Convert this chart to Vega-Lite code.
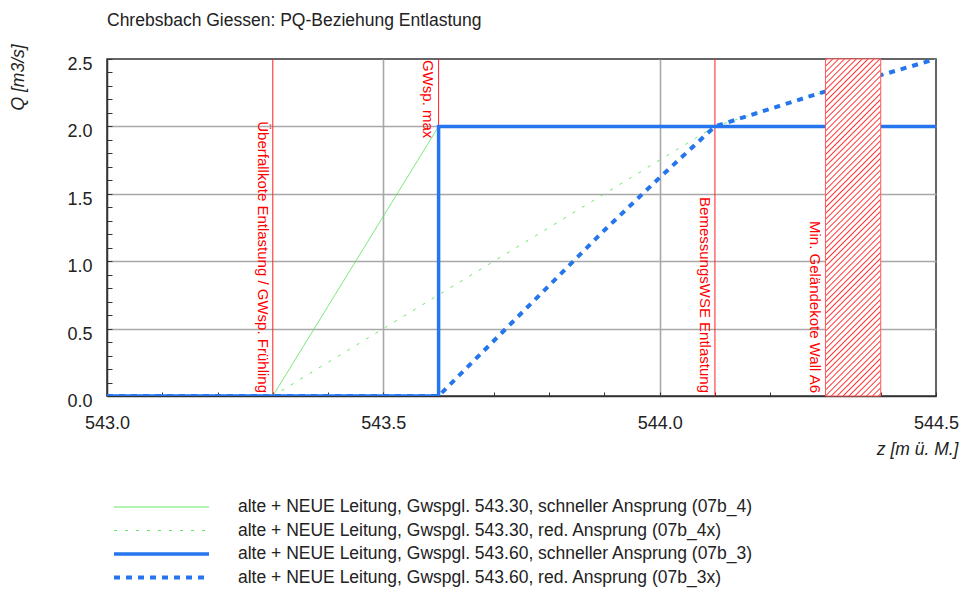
{
 "$schema": "https://vega.github.io/schema/vega-lite/v6.json",
 "width": 829,
 "height": 337,
 "autosize": {"type": "none"},
 "padding": {"left": 107, "top": 59, "right": 25, "bottom": 208},
 "background": "white",
 "title": {"text": "Chrebsbach Giessen: PQ-Beziehung Entlastung", "anchor": "start", "frame": "group", "fontSize": 17.5, "fontWeight": "normal", "color": "#222222", "baseline": "alphabetic", "offset": 0, "font": "Liberation Sans"},
 "datasets": {
  "lines": [
   {"s": "07b_4", "i": 0, "z": 543.0, "q": 0},
   {"s": "07b_4", "i": 1, "z": 543.3, "q": 0},
   {"s": "07b_4", "i": 2, "z": 543.6, "q": 2.0},
   {"s": "07b_4", "i": 3, "z": 544.5, "q": 2.0},
   {"s": "07b_4x", "i": 0, "z": 543.0, "q": 0},
   {"s": "07b_4x", "i": 1, "z": 543.3, "q": 0},
   {"s": "07b_4x", "i": 2, "z": 544.1, "q": 2.0},
   {"s": "07b_4x", "i": 3, "z": 544.2, "q": 2.13},
   {"s": "07b_4x", "i": 4, "z": 544.3, "q": 2.26},
   {"s": "07b_4x", "i": 5, "z": 544.4, "q": 2.38},
   {"s": "07b_4x", "i": 6, "z": 544.5, "q": 2.5},
   {"s": "07b_3", "i": 0, "z": 543.0, "q": 0},
   {"s": "07b_3", "i": 1, "z": 543.6, "q": 0},
   {"s": "07b_3", "i": 2, "z": 543.6, "q": 2.0},
   {"s": "07b_3", "i": 3, "z": 544.5, "q": 2.0},
   {"s": "07b_3x", "i": 0, "z": 543.0, "q": 0},
   {"s": "07b_3x", "i": 1, "z": 543.6, "q": 0},
   {"s": "07b_3x", "i": 2, "z": 543.7, "q": 0.41},
   {"s": "07b_3x", "i": 3, "z": 543.8, "q": 0.82},
   {"s": "07b_3x", "i": 4, "z": 543.9, "q": 1.23},
   {"s": "07b_3x", "i": 5, "z": 544.0, "q": 1.62},
   {"s": "07b_3x", "i": 6, "z": 544.1, "q": 2.0},
   {"s": "07b_3x", "i": 7, "z": 544.2, "q": 2.13},
   {"s": "07b_3x", "i": 8, "z": 544.3, "q": 2.26},
   {"s": "07b_3x", "i": 9, "z": 544.4, "q": 2.38},
   {"s": "07b_3x", "i": 10, "z": 544.5, "q": 2.5}
  ],
  "marks": [
   {"z": 543.3, "q": 0, "t": "Überfallkote Entlastung / GWsp. Frühling", "pos": "unten", "linie": true},
   {"z": 543.6, "q": 2.5, "t": "GWsp. max", "pos": "oben", "linie": true},
   {"z": 544.1, "q": 0, "t": "BemessungsWSE Entlastung", "pos": "unten", "linie": true},
   {"z": 544.3, "q": 0, "t": "Min. Geländekote Wall A6", "pos": "unten", "linie": false}
  ],
  "band": [
   {"z1": 544.3, "z2": 544.4, "q1": 0, "q2": 2.5}
  ]
 },
 "layer": [
  {
   "data": {"name": "marks"},
   "transform": [{"filter": "datum.linie"}],
   "mark": {"type": "rule", "color": "#ff2020", "strokeWidth": 1},
   "encoding": {
    "x": {"field": "z", "type": "quantitative"}
   }
  },
  {
   "data": {"name": "lines"},
   "mark": {"type": "line", "clip": true},
   "encoding": {
    "x": {
     "field": "z", "type": "quantitative",
     "scale": {"domain": [543, 544.5], "nice": false, "zero": false},
     "axis": {
      "values": [543, 543.1, 543.2, 543.3, 543.4, 543.5, 543.6, 543.7, 543.8, 543.9, 544, 544.1, 544.2, 544.3, 544.4, 544.5],
      "tickCount": 40,
      "labelExpr": "abs(datum.value*2 - round(datum.value*2)) < 0.001 ? format(datum.value, '.1f') : ''",
      "title": "z [m ü. M.]",
      "tickSize": -4,
      "labelPadding": 22,
      "labelFlush": false,
      "labelOverlap": false,
      "titleAlign": "right",
      "titleBaseline": "middle",
      "titleX": 851,
      "titleY": 53,
      "gridOpacity": {"condition": {"test": "datum.value > 543.01 && datum.value < 544.49 && abs(datum.value*2 - round(datum.value*2)) < 0.001", "value": 1}, "value": 0}
     }
    },
    "y": {
     "field": "q", "type": "quantitative",
     "scale": {"domain": [0, 2.5], "nice": false},
     "axis": {
      "values": [0, 0.1, 0.2, 0.3, 0.4, 0.5, 0.6, 0.7, 0.8, 0.9, 1, 1.1, 1.2, 1.3, 1.4, 1.5, 1.6, 1.7, 1.8, 1.9, 2, 2.1, 2.2, 2.3, 2.4, 2.5],
      "tickCount": 40,
      "labelExpr": "abs(datum.value*2 - round(datum.value*2)) < 0.001 ? format(datum.value, '.1f') : ''",
      "title": "Q [m3/s]",
      "tickSize": -5,
      "labelPadding": 20,
      "labelOffset": 5.5,
      "labelOverlap": false,
      "titleAngle": 270,
      "titleAlign": "left",
      "titleBaseline": "middle",
      "titleX": -89,
      "titleY": 51,
      "gridOpacity": {"condition": {"test": "datum.value > 0.01 && datum.value < 2.49 && abs(datum.value*2 - round(datum.value*2)) < 0.001", "value": 1}, "value": 0}
     }
    },
    "color": {
     "field": "s", "type": "nominal",
     "scale": {"domain": ["07b_4", "07b_4x", "07b_3", "07b_3x"], "range": ["#66e866", "#66e866", "#2576ee", "#2576ee"]},
     "legend": {
      "title": null,
      "labelExpr": "datum.label == '07b_4' ? 'alte + NEUE Leitung, Gwspgl. 543.30, schneller Ansprung (07b_4)' : datum.label == '07b_4x' ? 'alte + NEUE Leitung, Gwspgl. 543.30, red. Ansprung (07b_4x)' : datum.label == '07b_3' ? 'alte + NEUE Leitung, Gwspgl. 543.60, schneller Ansprung (07b_3)' : 'alte + NEUE Leitung, Gwspgl. 543.60, red. Ansprung (07b_3x)'"
     }
    },
    "strokeDash": {
     "field": "s", "type": "nominal",
     "scale": {"domain": ["07b_4", "07b_4x", "07b_3", "07b_3x"], "range": [[1, 0], [3, 8], [1, 0], [6, 6]]},
     "legend": {"title": null}
    },
    "strokeWidth": {
     "field": "s", "type": "nominal",
     "scale": {"type": "ordinal", "domain": ["07b_4", "07b_4x", "07b_3", "07b_3x"], "range": [1, 1, 3.5, 4]},
     "legend": {"title": null}
    },
    "order": {"field": "i", "type": "quantitative"}
   }
  },
  {
   "data": {"name": "band"},
   "mark": {
    "type": "rect", "stroke": "#ff5a5a", "strokeWidth": 1,
    "fill": {"gradient": "linear", "x1": 0, "y1": 0, "x2": 0.186, "y2": 1.134, "stops": [
{"offset":0,"color":"#fff"},{"offset":0.0035,"color":"#f33"},{"offset":0.007,"color":"#fff"},
{"offset":0.015,"color":"#fff"},{"offset":0.0185,"color":"#f33"},{"offset":0.022,"color":"#fff"},
{"offset":0.03,"color":"#fff"},{"offset":0.0335,"color":"#f33"},{"offset":0.037,"color":"#fff"},
{"offset":0.045,"color":"#fff"},{"offset":0.0485,"color":"#f33"},{"offset":0.052,"color":"#fff"},
{"offset":0.06,"color":"#fff"},{"offset":0.0635,"color":"#f33"},{"offset":0.067,"color":"#fff"},
{"offset":0.075,"color":"#fff"},{"offset":0.0785,"color":"#f33"},{"offset":0.082,"color":"#fff"},
{"offset":0.09,"color":"#fff"},{"offset":0.0935,"color":"#f33"},{"offset":0.097,"color":"#fff"},
{"offset":0.105,"color":"#fff"},{"offset":0.1085,"color":"#f33"},{"offset":0.112,"color":"#fff"},
{"offset":0.12,"color":"#fff"},{"offset":0.1235,"color":"#f33"},{"offset":0.127,"color":"#fff"},
{"offset":0.135,"color":"#fff"},{"offset":0.1385,"color":"#f33"},{"offset":0.142,"color":"#fff"},
{"offset":0.15,"color":"#fff"},{"offset":0.1535,"color":"#f33"},{"offset":0.157,"color":"#fff"},
{"offset":0.165,"color":"#fff"},{"offset":0.1685,"color":"#f33"},{"offset":0.172,"color":"#fff"},
{"offset":0.18,"color":"#fff"},{"offset":0.1835,"color":"#f33"},{"offset":0.187,"color":"#fff"},
{"offset":0.195,"color":"#fff"},{"offset":0.1985,"color":"#f33"},{"offset":0.202,"color":"#fff"},
{"offset":0.21,"color":"#fff"},{"offset":0.2135,"color":"#f33"},{"offset":0.217,"color":"#fff"},
{"offset":0.225,"color":"#fff"},{"offset":0.2285,"color":"#f33"},{"offset":0.232,"color":"#fff"},
{"offset":0.24,"color":"#fff"},{"offset":0.2435,"color":"#f33"},{"offset":0.247,"color":"#fff"},
{"offset":0.255,"color":"#fff"},{"offset":0.2585,"color":"#f33"},{"offset":0.262,"color":"#fff"},
{"offset":0.27,"color":"#fff"},{"offset":0.2735,"color":"#f33"},{"offset":0.277,"color":"#fff"},
{"offset":0.285,"color":"#fff"},{"offset":0.2885,"color":"#f33"},{"offset":0.292,"color":"#fff"},
{"offset":0.3,"color":"#fff"},{"offset":0.3035,"color":"#f33"},{"offset":0.307,"color":"#fff"},
{"offset":0.315,"color":"#fff"},{"offset":0.3185,"color":"#f33"},{"offset":0.322,"color":"#fff"},
{"offset":0.33,"color":"#fff"},{"offset":0.3335,"color":"#f33"},{"offset":0.337,"color":"#fff"},
{"offset":0.345,"color":"#fff"},{"offset":0.3485,"color":"#f33"},{"offset":0.352,"color":"#fff"},
{"offset":0.36,"color":"#fff"},{"offset":0.3635,"color":"#f33"},{"offset":0.367,"color":"#fff"},
{"offset":0.375,"color":"#fff"},{"offset":0.3785,"color":"#f33"},{"offset":0.382,"color":"#fff"},
{"offset":0.39,"color":"#fff"},{"offset":0.3935,"color":"#f33"},{"offset":0.397,"color":"#fff"},
{"offset":0.405,"color":"#fff"},{"offset":0.4085,"color":"#f33"},{"offset":0.412,"color":"#fff"},
{"offset":0.42,"color":"#fff"},{"offset":0.4235,"color":"#f33"},{"offset":0.427,"color":"#fff"},
{"offset":0.435,"color":"#fff"},{"offset":0.4385,"color":"#f33"},{"offset":0.442,"color":"#fff"},
{"offset":0.45,"color":"#fff"},{"offset":0.4535,"color":"#f33"},{"offset":0.457,"color":"#fff"},
{"offset":0.465,"color":"#fff"},{"offset":0.4685,"color":"#f33"},{"offset":0.472,"color":"#fff"},
{"offset":0.48,"color":"#fff"},{"offset":0.4835,"color":"#f33"},{"offset":0.487,"color":"#fff"},
{"offset":0.495,"color":"#fff"},{"offset":0.4985,"color":"#f33"},{"offset":0.502,"color":"#fff"},
{"offset":0.51,"color":"#fff"},{"offset":0.5135,"color":"#f33"},{"offset":0.517,"color":"#fff"},
{"offset":0.525,"color":"#fff"},{"offset":0.5285,"color":"#f33"},{"offset":0.532,"color":"#fff"},
{"offset":0.54,"color":"#fff"},{"offset":0.5435,"color":"#f33"},{"offset":0.547,"color":"#fff"},
{"offset":0.555,"color":"#fff"},{"offset":0.5585,"color":"#f33"},{"offset":0.562,"color":"#fff"},
{"offset":0.57,"color":"#fff"},{"offset":0.5735,"color":"#f33"},{"offset":0.577,"color":"#fff"},
{"offset":0.585,"color":"#fff"},{"offset":0.5885,"color":"#f33"},{"offset":0.592,"color":"#fff"},
{"offset":0.6,"color":"#fff"},{"offset":0.6035,"color":"#f33"},{"offset":0.607,"color":"#fff"},
{"offset":0.615,"color":"#fff"},{"offset":0.6185,"color":"#f33"},{"offset":0.622,"color":"#fff"},
{"offset":0.63,"color":"#fff"},{"offset":0.6335,"color":"#f33"},{"offset":0.637,"color":"#fff"},
{"offset":0.645,"color":"#fff"},{"offset":0.6485,"color":"#f33"},{"offset":0.652,"color":"#fff"},
{"offset":0.66,"color":"#fff"},{"offset":0.6635,"color":"#f33"},{"offset":0.667,"color":"#fff"},
{"offset":0.675,"color":"#fff"},{"offset":0.6785,"color":"#f33"},{"offset":0.682,"color":"#fff"},
{"offset":0.69,"color":"#fff"},{"offset":0.6935,"color":"#f33"},{"offset":0.697,"color":"#fff"},
{"offset":0.705,"color":"#fff"},{"offset":0.7085,"color":"#f33"},{"offset":0.712,"color":"#fff"},
{"offset":0.72,"color":"#fff"},{"offset":0.7235,"color":"#f33"},{"offset":0.727,"color":"#fff"},
{"offset":0.735,"color":"#fff"},{"offset":0.7385,"color":"#f33"},{"offset":0.742,"color":"#fff"},
{"offset":0.75,"color":"#fff"},{"offset":0.7535,"color":"#f33"},{"offset":0.757,"color":"#fff"},
{"offset":0.765,"color":"#fff"},{"offset":0.7685,"color":"#f33"},{"offset":0.772,"color":"#fff"},
{"offset":0.78,"color":"#fff"},{"offset":0.7835,"color":"#f33"},{"offset":0.787,"color":"#fff"},
{"offset":0.795,"color":"#fff"},{"offset":0.7985,"color":"#f33"},{"offset":0.802,"color":"#fff"},
{"offset":0.81,"color":"#fff"},{"offset":0.8135,"color":"#f33"},{"offset":0.817,"color":"#fff"},
{"offset":0.825,"color":"#fff"},{"offset":0.8285,"color":"#f33"},{"offset":0.832,"color":"#fff"},
{"offset":0.84,"color":"#fff"},{"offset":0.8435,"color":"#f33"},{"offset":0.847,"color":"#fff"},
{"offset":0.855,"color":"#fff"},{"offset":0.8585,"color":"#f33"},{"offset":0.862,"color":"#fff"},
{"offset":0.87,"color":"#fff"},{"offset":0.8735,"color":"#f33"},{"offset":0.877,"color":"#fff"},
{"offset":0.885,"color":"#fff"},{"offset":0.8885,"color":"#f33"},{"offset":0.892,"color":"#fff"},
{"offset":0.9,"color":"#fff"},{"offset":0.9035,"color":"#f33"},{"offset":0.907,"color":"#fff"},
{"offset":0.915,"color":"#fff"},{"offset":0.9185,"color":"#f33"},{"offset":0.922,"color":"#fff"},
{"offset":0.93,"color":"#fff"},{"offset":0.9335,"color":"#f33"},{"offset":0.937,"color":"#fff"},
{"offset":0.945,"color":"#fff"},{"offset":0.9485,"color":"#f33"},{"offset":0.952,"color":"#fff"},
{"offset":0.96,"color":"#fff"},{"offset":0.9635,"color":"#f33"},{"offset":0.967,"color":"#fff"},
{"offset":0.975,"color":"#fff"},{"offset":0.9785,"color":"#f33"},{"offset":0.982,"color":"#fff"},
{"offset":0.99,"color":"#fff"},{"offset":0.9935,"color":"#f33"},{"offset":0.997,"color":"#fff"},
{"offset":1,"color":"#fff"}
    ]}
   },
   "encoding": {
    "x": {"field": "z1", "type": "quantitative"},
    "x2": {"field": "z2"},
    "y": {"field": "q1", "type": "quantitative"},
    "y2": {"field": "q2"}
   }
  },
  {
   "data": {"name": "marks"},
   "transform": [{"filter": "datum.pos == 'unten'"}],
   "mark": {"type": "text", "angle": 90, "align": "right", "baseline": "top", "dx": -3, "dy": 3, "fontSize": 15, "color": "#ff0000", "font": "Liberation Sans"},
   "encoding": {
    "x": {"field": "z", "type": "quantitative"},
    "y": {"field": "q", "type": "quantitative"},
    "text": {"field": "t"}
   }
  },
  {
   "data": {"name": "marks"},
   "transform": [{"filter": "datum.pos == 'oben'"}],
   "mark": {"type": "text", "angle": 90, "align": "left", "baseline": "top", "dx": 1, "dy": 4, "fontSize": 15, "color": "#ff0000", "font": "Liberation Sans"},
   "encoding": {
    "x": {"field": "z", "type": "quantitative"},
    "y": {"field": "q", "type": "quantitative"},
    "text": {"field": "t"}
   }
  }
 ],
 "config": {
  "font": "Liberation Sans",
  "view": {"stroke": "#333333", "strokeWidth": 1.5},
  "axis": {
   "domainColor": "#333333", "domainWidth": 1.5,
   "tickColor": "#333333", "tickWidth": 1,
   "gridColor": "#a8a8a8", "gridWidth": 1.6,
   "labelFont": "Liberation Sans", "labelFontSize": 18, "labelColor": "#222222",
   "titleFont": "Liberation Sans", "titleFontSize": 17.5, "titleFontStyle": "italic", "titleFontWeight": "normal", "titleColor": "#222222"
  },
  "legend": {
   "orient": "none", "legendX": 5, "legendY": 438,
   "symbolType": "stroke", "symbolSize": 9025, "clipHeight": 20,
   "labelFont": "Liberation Sans", "labelFontSize": 17.5, "labelColor": "#222222",
   "labelLimit": 900, "labelOffset": 27, "rowPadding": 3.5, "padding": 0
  }
 }
}
